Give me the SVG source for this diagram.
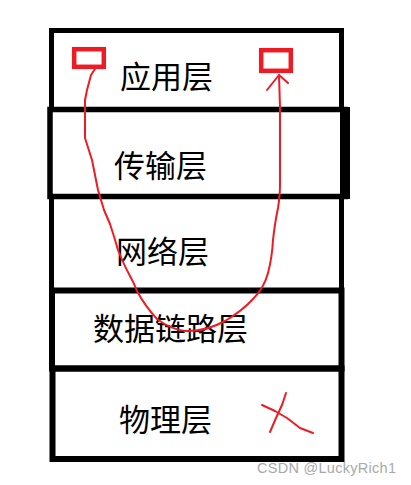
<svg xmlns="http://www.w3.org/2000/svg" width="411" height="485" viewBox="0 0 411 485">
<style>
.box{fill:none;stroke:#000;stroke-width:5}
.lbl{font-family:"Noto Sans CJK SC","Noto Sans",sans-serif;font-size:31px;fill:#000}
.red{fill:none;stroke:#ed1c24;stroke-width:2;stroke-linecap:round;stroke-linejoin:round}
.sq{fill:none;stroke:#ed1c24;stroke-width:4.5}
.wm{font-family:"Liberation Sans","DejaVu Sans",sans-serif;font-size:14.5px;fill:#a8a8a8}
</style>
<rect width="411" height="485" fill="#fff"/>
<g id="app-layer">
<rect class="box" x="51.5" y="30.5" width="290" height="79"/>
<text class="lbl" x="120" y="88">应用层</text>
</g>
<g id="transport-layer">
<rect class="box" x="50" y="109.5" width="295" height="87" style="stroke-width:5.5"/>
<rect x="340" y="107" width="10" height="92" fill="#000"/>
<text class="lbl" x="114" y="177">传输层</text>
</g>
<g id="network-layer">
<rect class="box" x="51.5" y="196.5" width="290" height="94"/>
<text class="lbl" x="116" y="263">网络层</text>
</g>
<g id="datalink-layer">
<rect class="box" x="52" y="290.5" width="289.5" height="78" style="stroke-width:6"/>
<text class="lbl" x="93" y="340">数据链路层</text>
</g>
<g id="physical-layer">
<rect class="box" x="52.5" y="368.5" width="289" height="90.5" style="stroke-width:6"/>
<text class="lbl" x="119" y="431">物理层</text>
</g>
<g id="marks">
<rect class="sq" x="74.2" y="49.2" width="29.6" height="17.6"/>
<rect class="sq" x="261.2" y="50.2" width="29.6" height="20.6"/>
<path class="red" d="M286,393 L282,405 L276,418 L270,432"/>
<path class="red" d="M262,405 L275,411 L287,418 L300,428 L313,433"/>
</g>
<g id="connectors">
<path class="red" d="M95,69 L91,75 L87,90 L85,100 L85,138 L92,160 L98,190 L104,210 L110,224 Q114,236 118,250 Q124,265 130,276 Q134,283 137,291 Q145,306 157,319 Q170,329 185,331 Q205,332 225,321 Q242,311 253,299 Q264,288 268,273 Q272,258 273,240 Q275,222 278,208 Q280,195 280,185 L280,107 L279,75"/>
<path class="red" d="M267,90 L279,75 L288,83"/>
</g>
<text class="wm" x="257" y="473" textLength="139">CSDN @LuckyRich1</text>
</svg>
